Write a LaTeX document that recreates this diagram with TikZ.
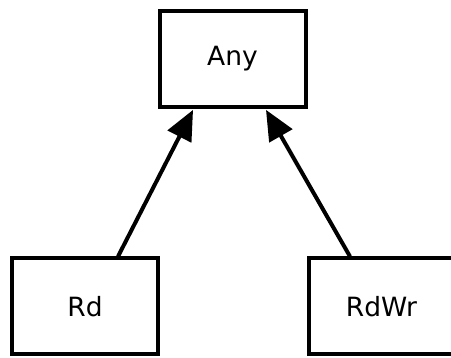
\documentclass[tikz,border=0pt]{standalone}
\usepackage{fontspec}
\setmainfont{DejaVu Sans}
\usetikzlibrary{arrows.meta,calc}

\tikzset{
	cls/.style={draw, line width=4pt, minimum width=146pt, minimum height=96pt,
		inner sep=0pt, font=\fontsize{26.5}{32}\selectfont},
	inherit/.style={line width=4pt, -{Triangle[length=30pt,width=26pt]}, shorten >=1pt}
}

\begin{document}
\begin{tikzpicture}[x=1pt,y=-1pt]
		\useasboundingbox (0,0) rectangle (451,358);
		\node[cls] at (232.5,59) (any) {Any};
		\node[cls] at (85,306.5) (rd) {Rd};
		\node[cls] at (381.5,306.5) (rdwr) {RdWr};
		\draw[inherit] ($(rd.north west)!0.72!(rd.north east)$) -- ($(any.south west)!0.24!(any.south east)$);
		\draw[inherit] ($(rdwr.north west)!0.29!(rdwr.north east)$) -- ($(any.south west)!0.72!(any.south east)$);
	\end{tikzpicture}
\end{document}
